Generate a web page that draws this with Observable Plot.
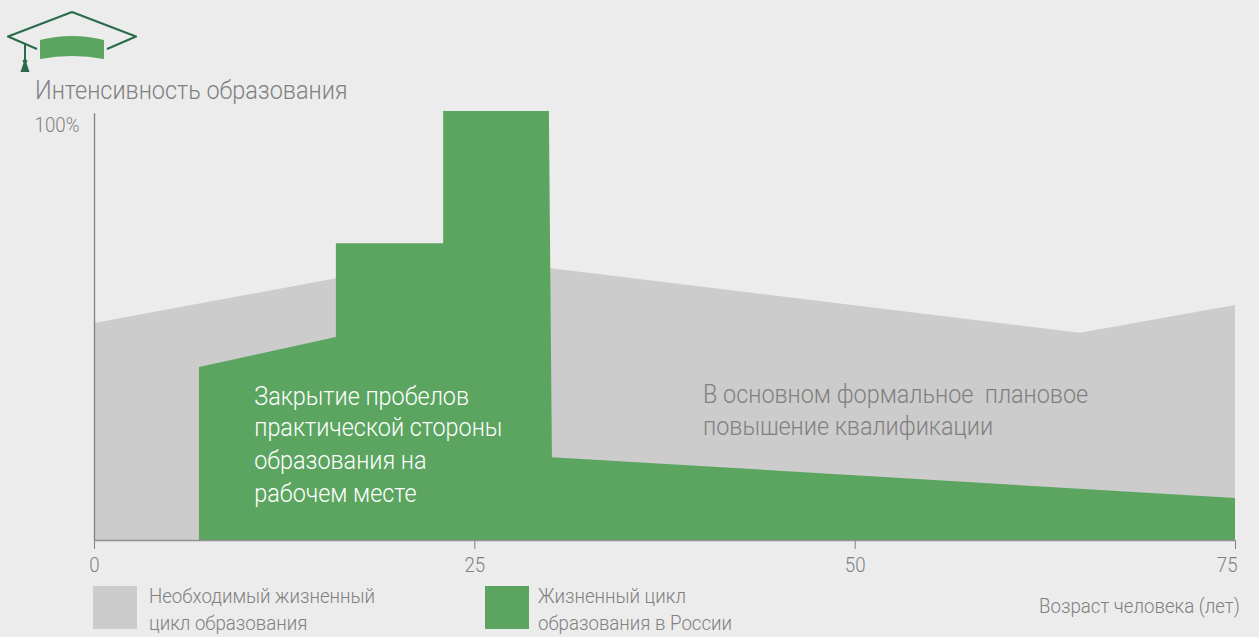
<!DOCTYPE html>
<html><head><meta charset="utf-8">
<script src="https://cdn.jsdelivr.net/npm/d3@7"></script>
<script src="https://cdn.jsdelivr.net/npm/@observablehq/plot@0.6"></script>
<style>
html,body{margin:0;padding:0;background:#ececec;width:1259px;height:637px;overflow:hidden;font-family:Roboto,sans-serif;font-weight:300;color:#808080}
#head{position:relative;height:105px}
#head svg{position:absolute;left:0;top:0}
#title{position:absolute;left:35px;top:75px;font-size:26px;line-height:30px;white-space:nowrap;transform-origin:left top;transform:scaleX(.901)}
#chart svg{display:block}
#foot{position:relative;height:57px}
.sw{position:absolute;top:6px;width:44px;height:43px}
.lg{position:absolute;top:3px;font-size:21px;line-height:27px;white-space:nowrap;transform-origin:left top;transform:scaleX(.889)}
#xl{position:absolute;right:19px;top:14px;font-size:21px;line-height:24px;white-space:nowrap;transform-origin:right top;transform:scaleX(.889)}
</style></head><body>
<div id="head">
<svg width="150" height="80" viewBox="0 0 150 80">
<path d="M37 49 L8 36.5 L72 12 L136 36.5 L107 49" fill="none" stroke="#2a6b4a" stroke-width="2.2" stroke-linejoin="round"/>
<path d="M25 44 V60" stroke="#2a6b4a" stroke-width="2"/>
<path d="M25 58 l2.5 3 l-1 2 l3 9 h-9 l3 -9 l-1 -2z" fill="#2a6b4a"/>
<path d="M40 40 Q72 32 104 40 V59 Q72 53 40 59z" fill="#5ba561"/>
</svg>
<div id="title">Интенсивность образования</div>
</div>
<div id="chart"></div>
<div id="foot">
<div class="sw" style="left:93px;background:#cccccc"></div>
<div class="lg" style="left:149px">Необходимый жизненный<br>цикл образования</div>
<div class="sw" style="left:485px;background:#5ba561"></div>
<div class="lg" style="left:538px">Жизненный цикл<br>образования в России</div>
<div id="xl">Возраст человека (лет)</div>
</div>
<script>
const needAge = [0, 15.9, 29.9, 64.8, 75];
const needValue = [50.6, 61, 63.4, 48.3, 54.8];
const russiaAge = [6.9, 15.9, 15.9, 22.95, 22.95, 29.9, 30.1, 75];
const russiaValue = [40.3, 47.3, 69.2, 69.2, 100, 100, 19.3, 9.8];
const xTicks = [0, 25, 50, 75];
const noteLeft = ["Закрытие пробелов", "практической стороны", "образования на", "рабочем месте"];
const noteLeftY = [33.6, 26.2, 18.6, 11];
const noteRight = ["В основном формальное  плановое", "повышение квалификации"];
const noteRightY = [34, 26.6];

const need = needAge.map((x, i) => ({x, y: needValue[i]}));
const russia = russiaAge.map((x, i) => ({x, y: russiaValue[i]}));

const plot = Plot.plot({
  width: 1259, height: 475,
  marginLeft: 94, marginRight: 24, marginTop: 6, marginBottom: 40,
  style: {background: "transparent", fontFamily: "Roboto"},
  x: {domain: [0, 75], axis: null},
  y: {domain: [0, 100], axis: null},
  marks: [
    Plot.areaY(need, {x: "x", y1: 0, y2: "y", fill: "#cccccc"}),
    Plot.areaY(russia, {x: "x", y1: 0, y2: "y", fill: "#5ba561"}),
    Plot.ruleX([0], {y1: 0, y2: 99.5, stroke: "#808080", strokeWidth: 1.3}),
    Plot.ruleY([0], {stroke: "#909090", strokeWidth: 1.5}),
    Plot.axisX({ticks: xTicks, tickSize: 9, stroke: "#808080", strokeOpacity: 1, tickFormat: () => "", label: null}),
    Plot.text(xTicks.slice(0, 3), {x: d => d, y: 0, text: d => String(d), dy: 25, textAnchor: "middle", fill: "#808080", fontSize: 21, fontWeight: 300}),
    Plot.text(xTicks.slice(3), {x: d => d, y: 0, text: d => String(d), dy: 25, dx: 2, textAnchor: "end", fill: "#808080", fontSize: 21, fontWeight: 300}),
    Plot.text(["100%"], {x: 0, y: 100, text: d => d, dx: -15, dy: 14, textAnchor: "end", fill: "#808080", fontSize: 21, fontWeight: 300}),
    Plot.text(noteLeft, {x: 10.5, y: (d, i) => noteLeftY[i], text: d => d, textAnchor: "start", fill: "#ffffff", fontSize: 26, fontWeight: 300}),
    Plot.text(noteRight, {x: 40, y: (d, i) => noteRightY[i], text: d => d, textAnchor: "start", fill: "#808080", fontSize: 26, fontWeight: 300})
  ]
});
document.getElementById("chart").appendChild(plot);
// Narrow the glyphs like the reference's condensed face
d3.select(plot).selectAll("text").each(function () {
  const t = this.getAttribute("transform");
  const big = this.parentNode.getAttribute("font-size") === "26";
  if (t) this.setAttribute("transform", t + (big ? " scale(.9,1)" : " scale(.89,1)"));
});
</script>
</body></html>
